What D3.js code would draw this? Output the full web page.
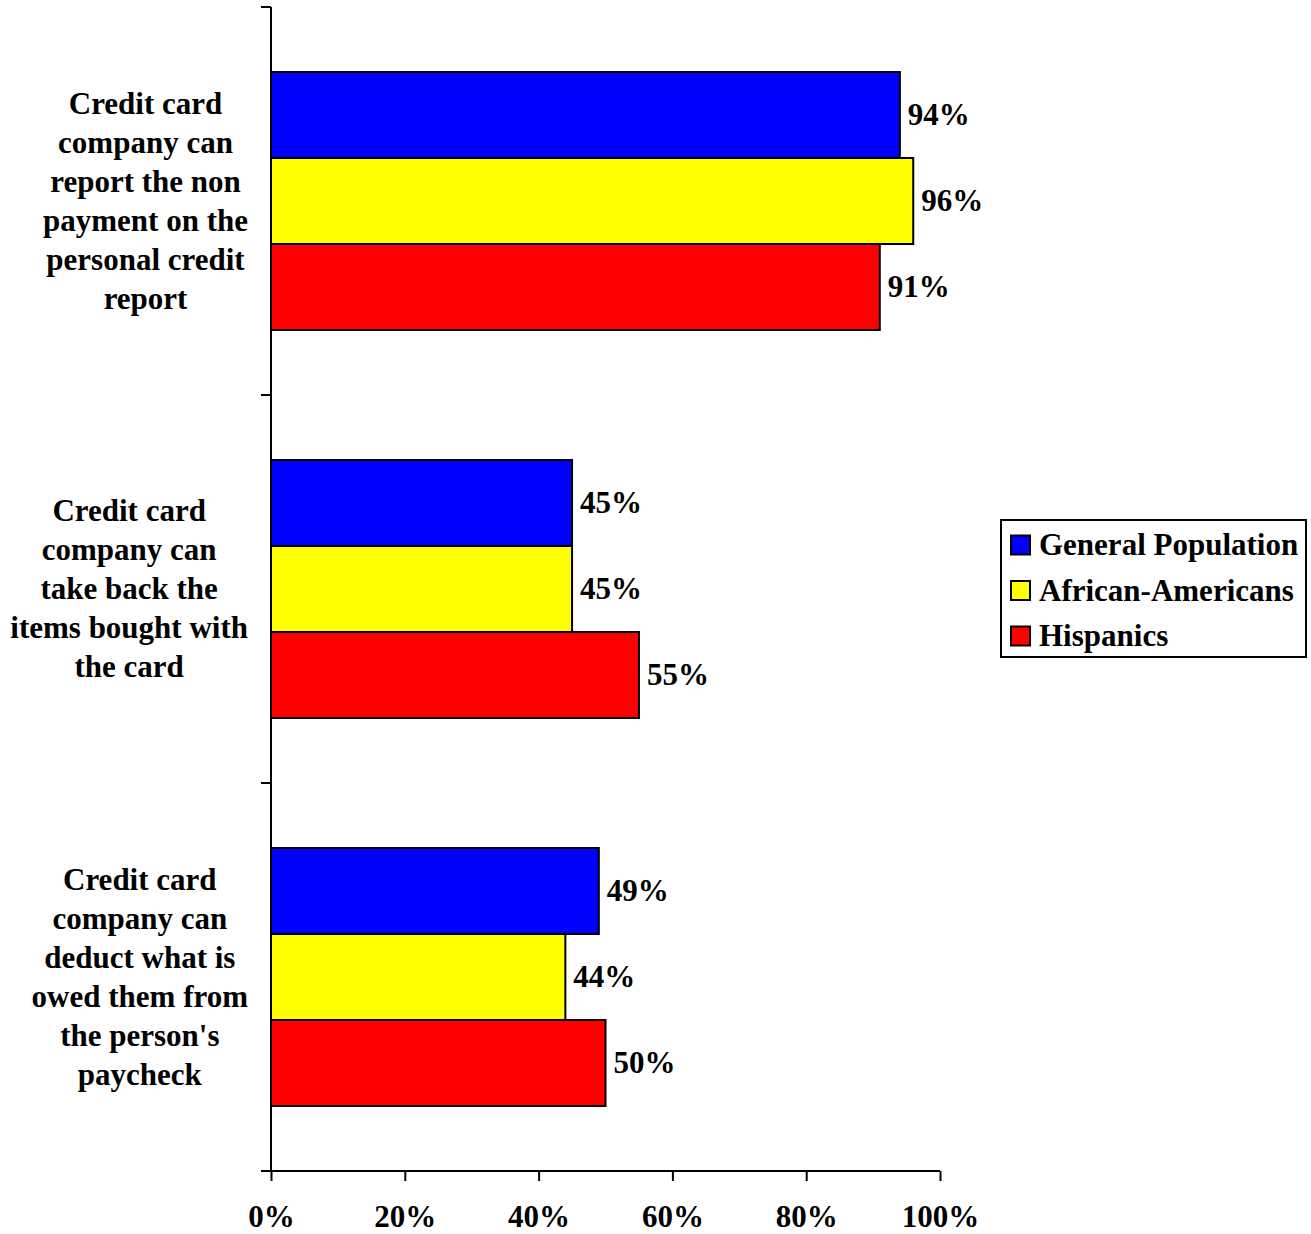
<!DOCTYPE html>
<html>
<head>
<meta charset="utf-8">
<script src="https://cdnjs.cloudflare.com/ajax/libs/d3/7.8.5/d3.min.js"></script>
<style>
  html, body { margin: 0; padding: 0; background: #fff; }
  svg { display: block; }
  text { font-family: "Liberation Serif", "Times New Roman", serif; font-weight: bold; fill: #000; }
</style>
</head>
<body>
<svg id="chart" width="1311" height="1234"></svg>
<script>
// Survey statements (wrapped into lines as shown on the axis)
const categories = [
  ["Credit card", "company can", "report the non", "payment on the", "personal credit", "report"],
  ["Credit card", "company can", "take back the", "items bought with", "the card"],
  ["Credit card", "company can", "deduct what is", "owed them from", "the person's", "paycheck"]
];
const seriesNames = ["General Population", "African-Americans", "Hispanics"];
const seriesColors = ["#0000ff", "#ffff00", "#ff0000"];
const generalPopulation = [94, 45, 49];
const africanAmericans = [96, 45, 44];
const hispanics = [91, 55, 50];
const xTicks = [0, 20, 40, 60, 80, 100];

const seriesValues = [generalPopulation, africanAmericans, hispanics];
const fontSize = 31;

const svg = d3.select("#chart");
const plotLeft = 271, plotRight = 940, plotTop = 7, plotBottom = 1171;

const x = d3.scaleLinear().domain([0, 100]).range([plotLeft, plotRight]);
const y = d3.scaleBand().domain(d3.range(categories.length)).range([plotTop, plotBottom]).padding(0);
const ys = d3.scaleBand().domain(d3.range(seriesNames.length))
  .range([0, y.bandwidth()]).paddingInner(0).paddingOuter(0.756);

// Bars with value labels
const groups = svg.append("g").selectAll("g")
  .data(categories.map((c, i) => i))
  .join("g")
  .attr("transform", i => `translate(0,${y(i)})`);

groups.each(function(ci) {
  const g = d3.select(this);
  seriesNames.forEach((s, si) => {
    const v = seriesValues[si][ci];
    g.append("rect")
      .attr("x", x(0))
      .attr("y", ys(si))
      .attr("width", x(v) - x(0))
      .attr("height", ys.bandwidth())
      .attr("fill", seriesColors[si])
      .attr("stroke", "#000")
      .attr("stroke-width", 2);
    g.append("text")
      .attr("x", x(v) + 8)
      .attr("y", ys(si) + ys.bandwidth() / 2 + 10)
      .attr("font-size", fontSize)
      .text(v + "%");
  });
});

// Category labels: each block centred on its widest line, right edge near the axis
categories.forEach((lines, ci) => {
  const g = svg.append("g");
  const cy = y(ci) + y.bandwidth() / 2;
  const lh = 39;
  const texts = lines.map((ln, li) =>
    g.append("text")
      .attr("font-size", fontSize)
      .attr("text-anchor", "middle")
      .attr("y", cy + (li - (lines.length - 1) / 2) * lh + 10)
      .text(ln)
  );
  const maxW = d3.max(texts, t => t.node().getComputedTextLength());
  const cx = plotLeft - 23 - maxW / 2;
  texts.forEach(t => t.attr("x", cx));
});

// Y axis with ticks at category boundaries
svg.append("line")
  .attr("x1", plotLeft).attr("x2", plotLeft).attr("y1", plotTop).attr("y2", plotBottom)
  .attr("stroke", "#000").attr("stroke-width", 2);
const yBounds = d3.range(categories.length).map(i => y(i)).concat([plotBottom]);
svg.append("g").selectAll("line").data(yBounds).join("line")
  .attr("x1", plotLeft - 10).attr("x2", plotLeft).attr("y1", d => d).attr("y2", d => d)
  .attr("stroke", "#000").attr("stroke-width", 2);

// X axis
const xAxis = svg.append("g")
  .attr("transform", `translate(0,${plotBottom})`)
  .call(d3.axisBottom(x).tickValues(xTicks).tickSize(10).tickPadding(24)
    .tickFormat(d => d + "%"));
xAxis.select(".domain").attr("stroke", "#000").attr("stroke-width", 2)
  .attr("d", `M${plotLeft},0H${plotRight}`);
xAxis.selectAll(".tick line").attr("stroke", "#000").attr("stroke-width", 2);
xAxis.selectAll(".tick text")
  .attr("font-size", fontSize)
  .attr("font-family", "Liberation Serif, Times New Roman, serif")
  .attr("font-weight", "bold")
  .attr("fill", "#000");

// Legend
const legend = svg.append("g").attr("transform", "translate(1001,520)");
legend.append("rect")
  .attr("width", 305).attr("height", 137)
  .attr("fill", "#fff").attr("stroke", "#000").attr("stroke-width", 2);
seriesNames.forEach((s, i) => {
  const cy = 25 + i * 45.5;
  legend.append("rect")
    .attr("x", 10).attr("y", cy - 9.5).attr("width", 19).attr("height", 19)
    .attr("fill", seriesColors[i]).attr("stroke", "#000").attr("stroke-width", 2);
  legend.append("text")
    .attr("x", 38).attr("y", cy + 10)
    .attr("font-size", fontSize)
    .text(s);
});
</script>
</body>
</html>
